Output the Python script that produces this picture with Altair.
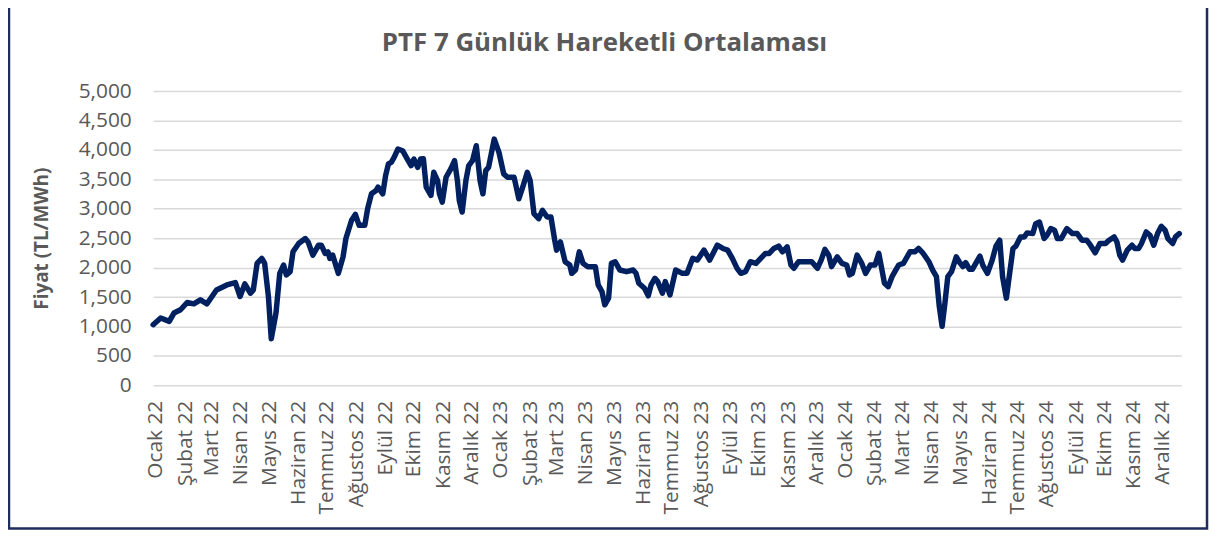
import altair as alt
import pandas as pd

# ---- data (days since 2022-01-01, 7-day moving average TL/MWh)
day_offset = [
    -3, 5, 14, 19, 26, 33, 40, 47, 54, 64, 75, 84, 89, 94, 100, 103, 107, 112, 115, 119,
    122, 127, 131, 135, 138, 142, 145, 151, 158, 161, 166, 172, 175, 179, 182, 184, 187, 193, 198, 201,
    207, 211, 215, 221, 224, 228, 233, 235, 240, 243, 246, 249, 252, 256, 261, 266, 270, 273, 277, 280,
    283, 286, 291, 294, 298, 300, 303, 307, 312, 316, 319, 321, 324, 328, 331, 335, 339, 343, 346, 349,
    352, 358, 363, 368, 372, 379, 384, 387, 393, 396, 400, 405, 409, 414, 418, 422, 424, 428, 433, 438,
    440, 444, 448, 452, 457, 465, 468, 472, 475, 479, 482, 486, 491, 498, 505, 508, 511, 517, 521, 524,
    528, 531, 536, 539, 544, 550, 557, 562, 568, 573, 580, 586, 594, 600, 605, 610, 615, 619, 624, 629,
    635, 640, 645, 649, 654, 659, 663, 668, 672, 675, 680, 687, 694, 700, 704, 708, 712, 715, 721, 726,
    731, 734, 737, 742, 747, 751, 756, 761, 765, 768, 771, 775, 779, 782, 786, 791, 798, 803, 807, 812,
    818, 822, 826, 829, 832, 835, 838, 842, 847, 850, 854, 857, 861, 864, 872, 875, 880, 885, 889, 893,
    896, 900, 903, 907, 910, 915, 919, 922, 928, 931, 935, 940, 943, 947, 951, 954, 958, 964, 970, 975,
    980, 985, 989, 994, 999, 1005, 1008, 1014, 1017, 1020, 1023, 1028, 1033, 1036, 1040, 1043, 1048, 1052, 1056, 1060,
    1064, 1068, 1071, 1076, 1079, 1083,
]
ptf_ma7 = [
    1030, 1143, 1087, 1228, 1284, 1407, 1385, 1453, 1385, 1621, 1706, 1745, 1509, 1723, 1565, 1621, 2072, 2157, 2072, 1509,
    790, 1228, 1903, 2044, 1875, 1931, 2268, 2410, 2494, 2437, 2212, 2381, 2381, 2241, 2268, 2157, 2212, 1903, 2184, 2494,
    2804, 2905, 2719, 2719, 3001, 3254, 3311, 3366, 3254, 3564, 3761, 3788, 3873, 4015, 3986, 3845, 3733, 3845, 3704, 3845,
    3850, 3366, 3226, 3620, 3479, 3254, 3113, 3535, 3677, 3817, 3479, 3142, 2944, 3479, 3733, 3817, 4071, 3479, 3254, 3648,
    3704, 4184, 3958, 3592, 3535, 3535, 3170, 3311, 3620, 3479, 2917, 2832, 2973, 2860, 2860, 2466, 2297, 2437, 2100, 2044,
    1903, 1959, 2268, 2072, 2016, 2016, 1706, 1593, 1368, 1481, 2072, 2100, 1959, 1931, 1959, 1903, 1734, 1650, 1520, 1706,
    1819, 1762, 1565, 1762, 1537, 1959, 1903, 1903, 2157, 2128, 2297, 2128, 2381, 2325, 2297, 2157, 1988, 1903, 1931, 2100,
    2072, 2157, 2241, 2241, 2325, 2365, 2268, 2353, 2044, 1988, 2100, 2100, 2100, 1988, 2128, 2309, 2212, 2016, 2184, 2072,
    2044, 1875, 1903, 2212, 2072, 1903, 2044, 2044, 2241, 1988, 1734, 1677, 1846, 1931, 2044, 2072, 2268, 2268, 2325, 2241,
    2100, 1959, 1846, 1340, 1002, 1400, 1846, 1931, 2184, 2100, 2016, 2084, 1971, 1971, 2196, 2044, 1903, 2128, 2365, 2466,
    1846, 1481, 1846, 2325, 2365, 2522, 2522, 2590, 2578, 2747, 2775, 2494, 2550, 2663, 2635, 2494, 2494, 2663, 2578, 2578,
    2466, 2466, 2381, 2252, 2410, 2410, 2455, 2522, 2437, 2212, 2128, 2297, 2381, 2325, 2325, 2410, 2606, 2550, 2381, 2578,
    2702, 2635, 2494, 2410, 2522, 2578,
]
month_names = ["Ocak", "Şubat", "Mart", "Nisan", "Mayıs", "Haziran",
               "Temmuz", "Ağustos", "Eylül", "Ekim", "Kasım", "Aralık"]
years = [2022, 2023, 2024]
y_ticks = [0, 500, 1000, 1500, 2000, 2500, 3000, 3500, 4000, 4500, 5000]
chart_title = "PTF 7 Günlük Hareketli Ortalaması"
y_title = "Fiyat (TL/MWh)"

# ---- tables
start = pd.Timestamp("2022-01-01")
dates = [(start + pd.Timedelta(days=d)).strftime("%Y-%m-%d") for d in day_offset]
df = pd.DataFrame({"tarih": dates, "fiyat": ptf_ma7})


def ms(s):
    return int(pd.Timestamp(s, tz="UTC").timestamp() * 1000)


tick_values = [ms(f"{y}-{m:02d}-01") for y in years for m in range(1, 13)]
x_domain = [ms("2021-12-29"), ms("2024-12-21")]
names_js = "[" + ",".join(f"'{n}'" for n in month_names) + "]"
label_expr = f"{names_js}[utcmonth(datum.value)] + ' ' + utcFormat(datum.value, '%y')"

FONT = "Open Sans"
GRAY = "#595959"
NAVY = "#002060"

W, H = 1034, 296

line = alt.Chart(df).mark_line(
    color=NAVY, strokeWidth=5.5, strokeJoin="round", strokeCap="round"
).encode(
    x=alt.X(
        "tarih:T",
        scale=alt.Scale(type="utc", domain=x_domain),
        axis=alt.Axis(
            values=tick_values, labelExpr=label_expr, labelAngle=270,
            labelAlign="right", labelBaseline="middle", labelPadding=15,
            labelFont=FONT, labelFontSize=21, labelColor=GRAY,
            grid=False, ticks=False, domain=False, title=None,
            labelOverlap=False, labelFlush=False,
        ),
    ),
    y=alt.Y(
        "fiyat:Q",
        scale=alt.Scale(domain=[0, 5000], nice=False),
        axis=alt.Axis(
            values=y_ticks, format=",.0f", labelPadding=22,
            labelFont=FONT, labelFontSize=21, labelColor=GRAY,
            grid=True, gridColor="#D9D9D9", gridWidth=1.5,
            ticks=False, domain=False,
            title=y_title, titleFont=FONT, titleFontSize=19, titleFontWeight="bold",
            titleColor=GRAY, titleAngle=270, titleX=-112, titleY=148,
            titleAlign="center", titleBaseline="middle",
        ),
    ),
)

one = pd.DataFrame({"k": [0]})

frame = alt.Chart(one).mark_rect(
    fill="transparent", stroke="#1F2D5C", strokeWidth=2.5
).encode(
    x=alt.value(-145), x2=alt.value(1060), y=alt.value(-100), y2=alt.value(440)
)

title = alt.Chart(one).mark_text(
    text=chart_title, font=FONT, fontSize=26, fontWeight="bold", color=GRAY,
    align="center", baseline="alphabetic",
).encode(x=alt.value(454), y=alt.value(-40))

chart = alt.layer(frame, line, title).properties(
    width=W, height=H,
    autosize=alt.AutoSizeParams(type="none"),
    padding={"left": 146, "top": 82, "right": 28, "bottom": 146},
    background="white",
).configure_view(stroke=None)

chart.save("out.html", embed_options={"renderer": "svg", "actions": False})
